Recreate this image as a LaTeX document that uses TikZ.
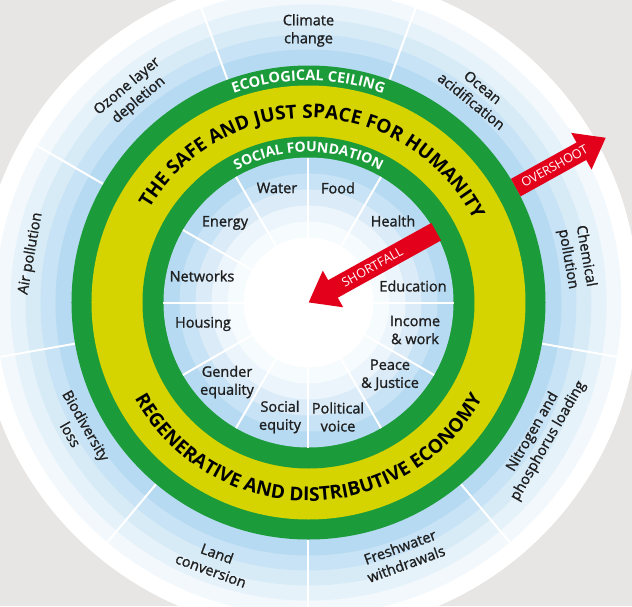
\documentclass[tikz,border=0pt]{standalone}
\usepackage{fontspec}
\setmainfont{Open Sans}
\newfontfamily\labfont{Open Sans}[FakeBold=1.2]
\usetikzlibrary{arrows.meta,decorations.text}
\definecolor{sky}{HTML}{B6DAF1}
\definecolor{ringgreen}{HTML}{1C9B3B}
\definecolor{ringyellow}{HTML}{D6D400}
\definecolor{alarm}{HTML}{E2001A}
\definecolor{backdrop}{HTML}{E8E6E4}

\begin{document}
\begin{tikzpicture}[x=1pt,y=1pt,
  lab/.style={align=center,text=black!88,font=\labfont\fontsize{14.5}{18}\selectfont},
  divider/.style={white,line width=2pt},
  ringtext/.style={decorate,decoration={text along path,text align=center,text={#1}}},
  redarrow/.style={alarm,line width=20pt,-{Triangle[length=28pt,width=40pt]}},
  arrowtext/.style={white,sloped,font=\fontsize{12.5}{12.5}\selectfont}]
\useasboundingbox (-308.5,-303.5) rectangle (323.5,302.5);
\fill[backdrop] (-308.5,-303.5) rectangle (323.5,302.5);
\fill[white] (0,0) circle (330pt);
% outer planetary boundaries
\foreach \r/\p in {313/18,298/36,283/55,268/75,253/100} \fill[sky!\p!white] (0,0) circle (\r pt);
\foreach \a in {30,70,...,350} \draw[divider] (\a:237) -- (\a:318);
\fill[ringgreen] (0,0) circle (237pt);
\fill[ringyellow] (0,0) circle (217pt);
\fill[ringgreen] (0,0) circle (166pt);
% social foundation
\foreach \r/\p in {145/100,129/75,113/50,97/28,81/12} \fill[sky!\p!white] (0,0) circle (\r pt);
\fill[white] (0,0) circle (65pt);
\foreach \a in {0,30,...,330} \draw[divider] (\a:64) -- (\a:145);
\foreach \n/\p/\t in {water/{-31.5,114.5}/Water, food/{29.5,114.5}/Food,
    energy/{-83.5,79.5}/Energy, health/{84.5,81.5}/Health,
    networks/{-106.5,26.5}/Networks, education/{104.5,16.5}/Education,
    housing/{-105.5,-21.5}/Housing, income/{106.5,-27.5}/{Income\\\& work},
    peace/{81.5,-72.5}/{Peace\\\& Justice}, gender/{-81.5,-79.5}/{Gender\\equality},
    social/{-28.5,-114.5}/{Social\\equity}, political/{29.5,-114.5}/{Political\\voice}}
  \node[lab] (\n) at (\p) {\t};
\foreach \n/\a/\r/\o/\t in {climate/90/272/0/{Climate\\change},
    ozone/130/273/40/{Ozone layer\\depletion}, ocean/51/268/-39/{Ocean\\acidification},
    chemical/9.5/272/-80/{Chemical\\pollution}, air/170/282/80/{Air pollution},
    nitrogen/-30/268/60/{Nitrogen and\\phosphorus loading},
    freshwater/-69.5/270/20/{Freshwater\\withdrawals}, land/-110/276/-20/{Land\\conversion},
    biodiversity/-151/263/-60/{Biodiversity\\loss}}
  \node[lab,rotate=\o] (\n) at (\a:\r) {\t};
% ring captions
\path[ringtext={|\color{white}\bfseries\fontsize{14.5}{14.5}\selectfont|ECOLOGICAL CEILING}] (170:222) arc[start angle=170,end angle=10,radius=222pt];
\path[ringtext={|\color{white}\bfseries\fontsize{14}{14}\selectfont|SOCIAL FOUNDATION}] (170:150.5) arc[start angle=170,end angle=10,radius=150.5pt];
\path[ringtext={|\bfseries\fontsize{19}{19}\selectfont|THE SAFE AND JUST SPACE FOR HUMANITY}] (176:184.5) arc[start angle=176,end angle=0,radius=184.5pt];
\path[ringtext={|\bfseries\fontsize{19}{19}\selectfont|REGENERATIVE AND DISTRIBUTIVE ECONOMY}] (182:198.5) arc[start angle=182,end angle=358,radius=198.5pt];
% shortfall and overshoot
\coordinate (sfbase) at (29:146);
\coordinate (sftip) at (0,0);
\coordinate (osbase) at (29:237);
\coordinate (ostip) at (29:340);
\draw[redarrow] (sfbase) -- (sftip) node[arrowtext,pos=0.5] {SHORTFALL};
\draw[redarrow] (osbase) -- (ostip) node[arrowtext,pos=0.43] {OVERSHOOT};
\end{tikzpicture}
\end{document}
